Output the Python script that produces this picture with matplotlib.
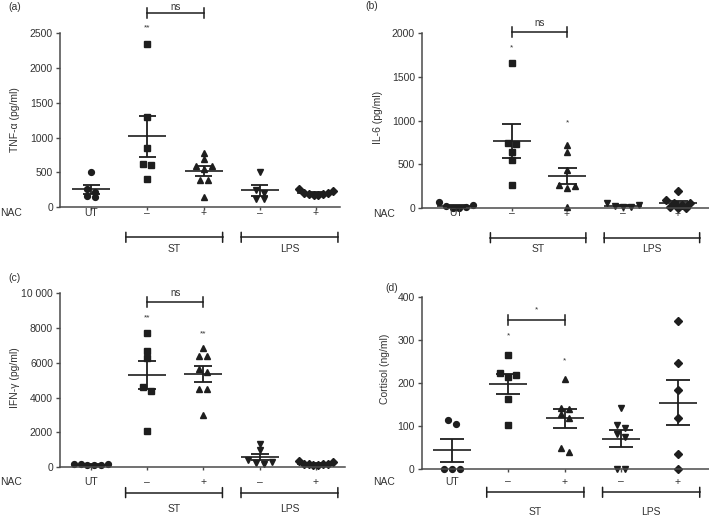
import matplotlib
matplotlib.use("Agg")
import matplotlib.pyplot as plt
import matplotlib.transforms as mtransforms
import numpy as np

plt.rcParams['font.family'] = ['Liberation Sans', 'DejaVu Sans']

nac_labels = ['UT', '–', '+', '–', '+']
markers = ['o', 's', '^', 'v', 'D']

# (a) TNF-alpha (pg/ml)
tnf_ut = [500, 215, 150, 155, 260]
tnf_st_minus = [2350, 1290, 845, 620, 610, 400]
tnf_st_plus = [782, 686, 585, 585, 550, 389, 389, 139]
tnf_lps_minus = [510, 250, 200, 120, 110]
tnf_lps_plus = [255, 235, 205, 200, 190, 180, 175, 170]

# (b) IL-6 (pg/ml)
il6_ut = [30, 25, 5, 5, 15, 65]
il6_st_minus = [1660, 740, 730, 640, 550, 265]
il6_st_plus = [720, 645, 430, 255, 230, 260, 15]
il6_lps_minus = [55, 20, 10, 10, 35]
il6_lps_plus = [195, 90, 60, 55, 30, 10, 5, 5]

# (c) IFN-gamma (pg/ml)
ifn_ut = [200, 150, 120, 100, 100, 180]
ifn_st_minus = [7700, 6700, 6250, 4620, 4350, 2100]
ifn_st_plus = [6850, 6390, 6390, 5620, 5450, 4490, 4490, 3000]
ifn_lps_minus = [1320, 950, 400, 300, 250, 200]
ifn_lps_plus = [280, 330, 200, 150, 130, 140, 160, 180]

# (d) Cortisol (ng/ml)
cort_ut = [115, 105, 0, 0, 0]
cort_st_minus = [265, 223, 219, 213, 163, 103]
cort_st_plus = [209, 143, 140, 128, 120, 49, 39]
cort_lps_minus = [143, 103, 95, 82, 75, 0, 0]
cort_lps_plus = [343, 246, 184, 118, 36, 0]

# significance: (group position, text, height)
tnf_stars = [(2, '**', 2571)]
il6_stars = [(2, '*', 1828), (3, '*', 973)]
ifn_stars = [(2, '**', 8595), (3, '**', 7638)]
cort_stars = [(2, '*', 309), (3, '*', 251)]
tnf_cmp = ('ns', 2787)
il6_cmp = ('ns', 2019)
ifn_cmp = ('ns', 9480)
cort_cmp = ('*', 347)

W, H = 709, 516
fig = plt.figure(figsize=(W / 100, H / 100), dpi=100)

INK = '#1e1e1e'
AXC = '#4a4a4a'
TXT = '#333333'


def swarm(values, unit_px, step_px):
    # GraphPad-like spreading of points at about the same height
    values = np.asarray(values, float)
    order = np.argsort(-values, kind='stable')
    rows = []
    for i in order:
        if rows and (values[rows[-1][0]] - values[i]) * unit_px < 6:
            rows[-1].append(i)
        else:
            rows.append([i])
    offs = np.zeros(len(values))
    for row in rows:
        n = len(row)
        sp = 8.0 if n < 2 else min(8.0, 34.0 / (n - 1))
        slots = [(k - (n - 1) / 2) * sp for k in range(n)]
        # highest values go to the outside of the row
        slots.sort(key=lambda s: (-abs(s), s))
        for i, s in zip(row, slots):
            offs[i] = s / step_px
    return offs


def panel(letter, box, ut_px, step, ymax, yticks, yticklabels, ylabel, groups,
          stars, cmp, tick_off, brk_off, grp_off, cap_hw, ylab_xy, letter_xy, nac_x, cmp_gap):
    left, top, right, bottom = box
    ax = fig.add_axes([left / W, 1 - bottom / H, (right - left) / W, (bottom - top) / H])
    ax.set_xlim(1 - (ut_px - left) / step, 1 + (right - ut_px) / step)
    ax.set_ylim(0, ymax)
    unit_px = (bottom - top) / ymax

    for spine in ['top', 'right']:
        ax.spines[spine].set_visible(False)
    for spine in ['left', 'bottom']:
        ax.spines[spine].set_color(AXC)
        ax.spines[spine].set_linewidth(1.1)

    ax.set_yticks(yticks)
    ax.set_yticklabels(yticklabels)
    ax.set_xticks(range(1, 6))
    ax.set_xticklabels([''] * 5)
    ax.tick_params(axis='both', direction='out', length=3, width=1, color=AXC,
                   labelsize=7.5, labelcolor=TXT, pad=2)
    ax.tick_params(axis='x', length=2.5)

    for i, vals in enumerate(groups):
        x = i + 1
        xs = x + swarm(vals, unit_px, step)
        ax.plot(xs, vals, linestyle='none', marker=markers[i], ms=4.2 if markers[i] != 'D' else 3.6,
                color=INK, mec=INK, clip_on=False, zorder=2)
        m = np.mean(vals)
        s = np.std(vals, ddof=1) / np.sqrt(len(vals))
        ax.hlines(m, x - 19 / step, x + 19 / step, color=INK, lw=1.2, zorder=3)
        ax.vlines(x, m - s, m + s, color=INK, lw=1.3, zorder=3)
        ax.hlines([m - s, m + s], x - cap_hw / step, x + cap_hw / step, color=INK, lw=1.3, zorder=3)

    for x, txt, y in stars:
        ax.text(x, y, txt, ha='center', va='center', fontsize=6, color=TXT, clip_on=False)

    # comparison bracket ST- vs ST+
    txt, y = cmp
    ax.plot([2, 3], [y, y], color=INK, lw=1.1, clip_on=False)
    for x in (2, 3):
        ax.plot([x, x], [y - 5 / unit_px, y + 5 / unit_px], color=INK, lw=1.1, clip_on=False)
    ax.text(2.5, y + cmp_gap / unit_px, txt, ha='center', va='center',
            fontsize=7 if txt == 'ns' else 6, color=TXT, clip_on=False)

    # NAC labels and group brackets under the axis
    xt = ax.get_xaxis_transform()
    t_tick = mtransforms.offset_copy(xt, fig=fig, y=-tick_off, units='dots')
    for i, lab in enumerate(nac_labels):
        ax.text(i + 1, 0, lab, transform=t_tick, ha='center', va='center', fontsize=7.5, color=TXT)
    t_brk = mtransforms.offset_copy(xt, fig=fig, y=-brk_off, units='dots')
    t_lo = mtransforms.offset_copy(xt, fig=fig, y=-brk_off - 5, units='dots')
    t_hi = mtransforms.offset_copy(xt, fig=fig, y=-brk_off + 5, units='dots')
    t_grp = mtransforms.offset_copy(xt, fig=fig, y=-grp_off, units='dots')
    for name, x0, x1 in [('ST', 1.62, 3.34), ('LPS', 3.67, 5.39)]:
        ax.plot([x0, x1], [0, 0], transform=t_brk, color=INK, lw=1.1, clip_on=False)
        for xe in (x0, x1):
            ax.annotate('', xy=(xe, 0), xycoords=t_lo, xytext=(xe, 0), textcoords=t_hi,
                        arrowprops=dict(arrowstyle='-', color=INK, lw=1.1, shrinkA=0, shrinkB=0))
        ax.text((x0 + x1) / 2, 0, name, transform=t_grp, ha='center', va='center',
                fontsize=7.5, color=TXT)

    fig.text(nac_x / W, 1 - (bottom + tick_off) / H, 'NAC', ha='left', va='center',
             fontsize=7.5, color=TXT)
    fig.text(ylab_xy[0] / W, 1 - ylab_xy[1] / H, ylabel, rotation=90, ha='center', va='center',
             fontsize=7.5, color=TXT)
    fig.text(letter_xy[0] / W, 1 - letter_xy[1] / H, '(' + letter + ')', ha='left', va='center',
             fontsize=7.5, color=TXT)
    return ax


panel('a', (60, 33.3, 340, 207), 91, 56.25, 2500, range(0, 2501, 500),
      ['0', '500', '1000', '1500', '2000', '2500'], 'TNF-α (pg/ml)',
      [tnf_ut, tnf_st_minus, tnf_st_plus, tnf_lps_minus, tnf_lps_plus],
      tnf_stars, tnf_cmp, 6, 30.3, 41.6, 8.5, (15, 120), (8, 7), 0, 6.8)

panel('b', (422, 33.3, 709, 208), 456, 55.5, 2000, range(0, 2001, 500),
      ['0', '500', '1000', '1500', '2000'], 'IL-6 (pg/ml)',
      [il6_ut, il6_st_minus, il6_st_plus, il6_lps_minus, il6_lps_plus],
      il6_stars, il6_cmp, 5.5, 29.7, 40.7, 9.5, (378, 117.5), (365, 6), 373, 8.4)

panel('c', (60, 293.3, 345, 467), 90.7, 56.3, 10000, range(0, 10001, 2000),
      ['0', '2000', '4000', '6000', '8000', '10 000'], 'IFN-γ (pg/ml)',
      [ifn_ut, ifn_st_minus, ifn_st_plus, ifn_lps_minus, ifn_lps_plus],
      ifn_stars, ifn_cmp, 15, 25.6, 41.6, 9, (15, 378), (8, 278), 0, 9)

panel('d', (421.7, 296.7, 709, 469.3), 451.7, 56.5, 400, range(0, 401, 100),
      ['0', '100', '200', '300', '400'], 'Cortisol (ng/ml)',
      [cort_ut, cort_st_minus, cort_st_plus, cort_lps_minus, cort_lps_plus],
      cort_stars, cort_cmp, 12.3, 23, 42.3, 12, (385, 369), (385, 288), 373, 9.3)

fig.savefig('out.png', dpi=100)
